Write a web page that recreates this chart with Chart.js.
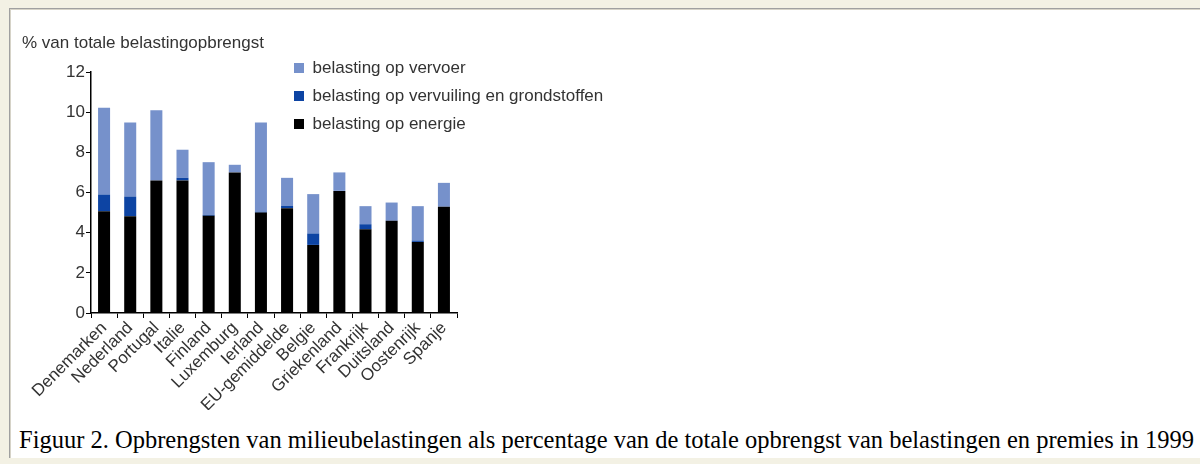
<!DOCTYPE html>
<html>
<head>
<meta charset="utf-8">
<script src="https://cdn.jsdelivr.net/npm/chart.js@4"></script>
<style>
  body { margin: 0; background: #f3f1e4; width: 1200px; height: 464px; overflow: hidden; }
  #frame {
    position: absolute; left: 9px; top: 8px; width: 1191px; height: 449px;
    background: #fff; border-top: 1px solid #a0a0a0; border-left: 1px solid #a0a0a0;
    box-shadow: inset 1px 1px 0 #d6d3c8;
  }
  #myChart { position: absolute; left: 22px; top: 0; }
  #caption {
    position: absolute; left: 19px; top: 428px; white-space: nowrap;
    font-family: 'Liberation Serif', 'Times New Roman', serif; font-size: 24.5px; line-height: 1; color: #000;
  }
</style>
</head>
<body>
<div id="frame"></div>
<canvas id="myChart" width="600" height="410"></canvas>
<div id="caption">Figuur 2. Opbrengsten van milieubelastingen als percentage van de totale opbrengst van belastingen en premies in 1999</div>
<script>
'use strict';

let countries = ['Denemarken', 'Nederland', 'Portugal', 'Italie', 'Finland', 'Luxemburg', 'Ierland', 'EU-gemiddelde', 'Belgie', 'Griekenland', 'Frankrijk', 'Duitsland', 'Oostenrijk', 'Spanje'];
let energie = [5.07, 4.82, 6.6, 6.6, 4.84, 7.0, 5.0, 5.22, 3.39, 6.08, 4.17, 4.59, 3.54, 5.29];
let vervuiling = [0.83, 0.98, 0, 0.13, 0.05, 0, 0.05, 0.12, 0.57, 0, 0.25, 0, 0.07, 0];
let vervoer = [4.32, 3.69, 3.5, 1.4, 2.62, 0.38, 4.44, 1.39, 1.96, 0.92, 0.9, 0.91, 1.71, 1.19];
let yTicks = [0, 2, 4, 6, 8, 10, 12];

let sans = "'Liberation Sans', Arial, sans-serif";

// legend sits inside the plot, to the right of the tall bars
let moveLegend = {
    id: 'moveLegend',
    afterLayout(chart) {
        let lg = chart.legend;
        lg.left = 261;
        lg.top = 48.5;
        lg.right = chart.width;
        lg.bottom = 160;
        lg.width = lg.right - lg.left;
        lg.height = lg.bottom - lg.top;
    }
};

let ctx = document.getElementById('myChart').getContext('2d');
let myChart = new Chart(ctx, {
    type: 'bar',
    data: {
        labels: countries,
        datasets: [{
            label: 'belasting op energie',
            data: energie,
            backgroundColor: '#000000'
        }, {
            label: 'belasting op vervuiling en grondstoffen',
            data: vervuiling,
            backgroundColor: '#0d44a3'
        }, {
            label: 'belasting op vervoer',
            data: vervoer,
            backgroundColor: '#7691cb'
        }]
    },
    options: {
        responsive: false,
        animation: false,
        layout: { padding: { left: 0, right: 165, top: 0, bottom: 0 } },
        datasets: { bar: { barPercentage: 0.46, categoryPercentage: 1 } },
        plugins: {
            title: {
                display: true,
                text: '% van totale belastingopbrengst',
                align: 'start',
                color: '#333',
                font: { family: sans, size: 17, weight: 'normal', lineHeight: 1.2 },
                padding: { top: 32.8, bottom: 18.8 }
            },
            legend: {
                position: 'chartArea',
                align: 'start',
                reverse: true,
                labels: {
                    boxWidth: 10,
                    boxHeight: 10,
                    padding: 11,
                    color: '#333',
                    font: { family: sans, size: 17 }
                }
            },
            tooltip: { enabled: false }
        },
        scales: {
            x: {
                stacked: true,
                border: { color: '#000', width: 1.5 },
                grid: { drawOnChartArea: false, tickLength: 5, color: '#000', offset: true },
                ticks: { color: '#333', font: { family: sans, size: 17 }, minRotation: 45, maxRotation: 45, padding: 0, autoSkip: false },
                afterFit(scale) { scale.height = 97; }
            },
            y: {
                stacked: true,
                min: 0,
                max: 12,
                border: { color: '#000', width: 1.5 },
                grid: { drawOnChartArea: false, tickLength: 5, color: '#000' },
                afterBuildTicks(scale) { scale.ticks = yTicks.map(v => ({ value: v })); },
                ticks: { color: '#333', font: { family: sans, size: 17 }, padding: 1 },
                afterFit(scale) { scale.width = 69; }
            }
        }
    },
    plugins: [moveLegend]
});
</script>
</body>
</html>
